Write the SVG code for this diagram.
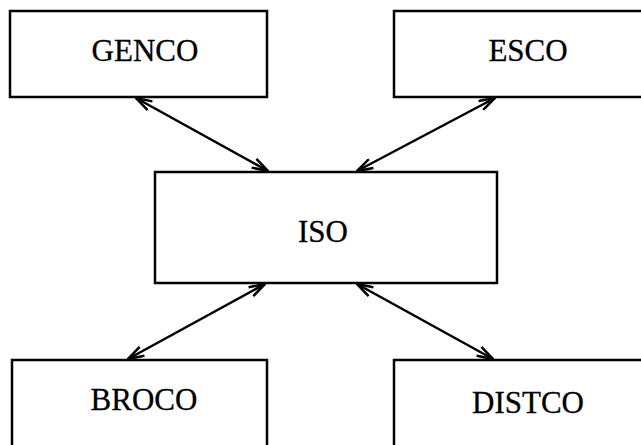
<svg xmlns="http://www.w3.org/2000/svg" width="641" height="445" viewBox="0 0 641 445">
  <style>
    .box { fill: #ffffff; stroke: #000000; stroke-width: 2.5; }
    .label { font-family: "Liberation Serif", "Times New Roman", serif; font-size: 31px; fill: #000000; stroke: #000000; stroke-width: 0.3; text-anchor: middle; }
    .link { stroke: #000000; stroke-width: 2.5; fill: none; marker-start: url(#head); marker-end: url(#head); }
  </style>
  <defs>
    <marker id="head" viewBox="0 0 18 12" refX="17" refY="6" markerWidth="18" markerHeight="12" markerUnits="userSpaceOnUse" orient="auto-start-reverse">
      <path d="M1,1 L17,6 L1,11" fill="none" stroke="#000000" stroke-width="2.5"/>
    </marker>
  </defs>
  <rect width="641" height="445" fill="#ffffff"/>

  <g id="genco">
    <rect class="box" x="10" y="11" width="257" height="86"/>
    <text class="label" x="145" y="61">GENCO</text>
  </g>
  <g id="esco">
    <rect class="box" x="394" y="11" width="270" height="86"/>
    <text class="label" x="528" y="61">ESCO</text>
  </g>
  <g id="iso">
    <rect class="box" x="155" y="172" width="342" height="111"/>
    <text class="label" x="323" y="242">ISO</text>
  </g>
  <g id="broco">
    <rect class="box" x="12" y="360" width="255" height="100"/>
    <text class="label" x="144" y="410">BROCO</text>
  </g>
  <g id="distco">
    <rect class="box" x="394" y="360" width="270" height="100"/>
    <text class="label" x="528" y="413">DISTCO</text>
  </g>

  <g id="connectors">
    <line class="link" x1="136" y1="98" x2="268" y2="171"/>
    <line class="link" x1="495" y1="98" x2="357" y2="171"/>
    <line class="link" x1="265" y1="284" x2="128" y2="359"/>
    <line class="link" x1="357" y1="284" x2="493" y2="359"/>
  </g>
</svg>
